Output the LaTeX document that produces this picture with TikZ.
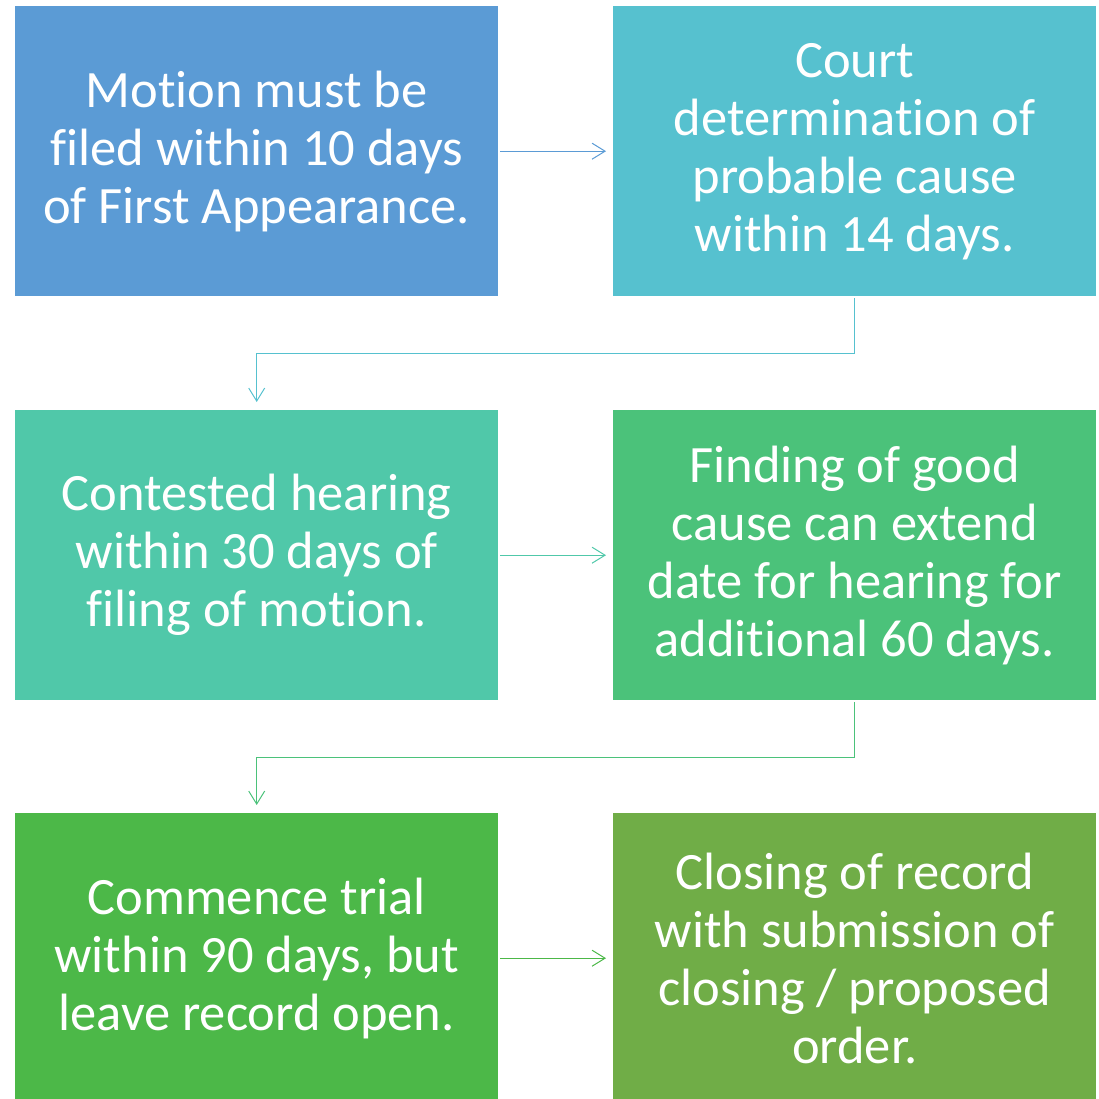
\documentclass[tikz,border=0pt]{standalone}
\usepackage{fontspec}
\setmainfont{Carlito}[Ligatures={NoCommon}]
\usetikzlibrary{arrows.meta}
\definecolor{cA}{HTML}{5B9BD5}
\definecolor{cB}{HTML}{56C1CF}
\definecolor{cC}{HTML}{50C8A9}
\definecolor{cD}{HTML}{4BC27A}
\definecolor{cE}{HTML}{4CB848}
\definecolor{cF}{HTML}{70AD47}
\begin{document}
\begin{tikzpicture}[x=1pt,y=-1pt,
  stepbox/.style={rectangle, anchor=north west, inner sep=0pt,
    minimum width=483pt, minimum height=290pt, text=white, align=center,
    font=\fontsize{52.5}{58}\selectfont},
  link/.style={line width=1.1pt, -{Straight Barb[length=13pt,width=16pt,line width=1pt]}},
]
\useasboundingbox (0,0) rectangle (1098,1099);
\node[stepbox, fill=cA] (b1) at (15,6) {Motion must be\\filed within 10 days\\of First Appearance.};
\node[stepbox, fill=cB] (b2) at (613,6) {Court\\determination of\\probable cause\\within 14 days.};
\node[stepbox, fill=cC] (b3) at (15,410) {Contested hearing\\within 30 days of\\filing of motion.};
\node[stepbox, fill=cD] (b4) at (613,410) {Finding of good\\cause can extend\\date for hearing for\\additional 60 days.};
\node[stepbox, fill=cE] (b5) at (15,813) {Commence trial\\within 90 days, but\\leave record open.};
\node[stepbox, fill=cF] (b6) at (613,813) {Closing of record\\with submission of\\closing / proposed\\order.};

\draw[link, cA, shorten <=2pt, shorten >=7pt] (b1.east) -- (b2.west);
\draw[link, cC, shorten <=2pt, shorten >=7pt] (b3.east) -- (b4.west);
\draw[link, cE, shorten <=2pt, shorten >=7pt] (b5.east) -- (b6.west);

\coordinate (k1) at ([yshift=-57pt]b2.south);
\coordinate (k2) at ([yshift=-57pt]b4.south);
\draw[link, cB, shorten <=2pt, shorten >=8pt] (b2.south) -- (k1) -| (b3.north);
\draw[link, cD, shorten <=2pt, shorten >=8pt] (b4.south) -- (k2) -| (b5.north);
\end{tikzpicture}
\end{document}
